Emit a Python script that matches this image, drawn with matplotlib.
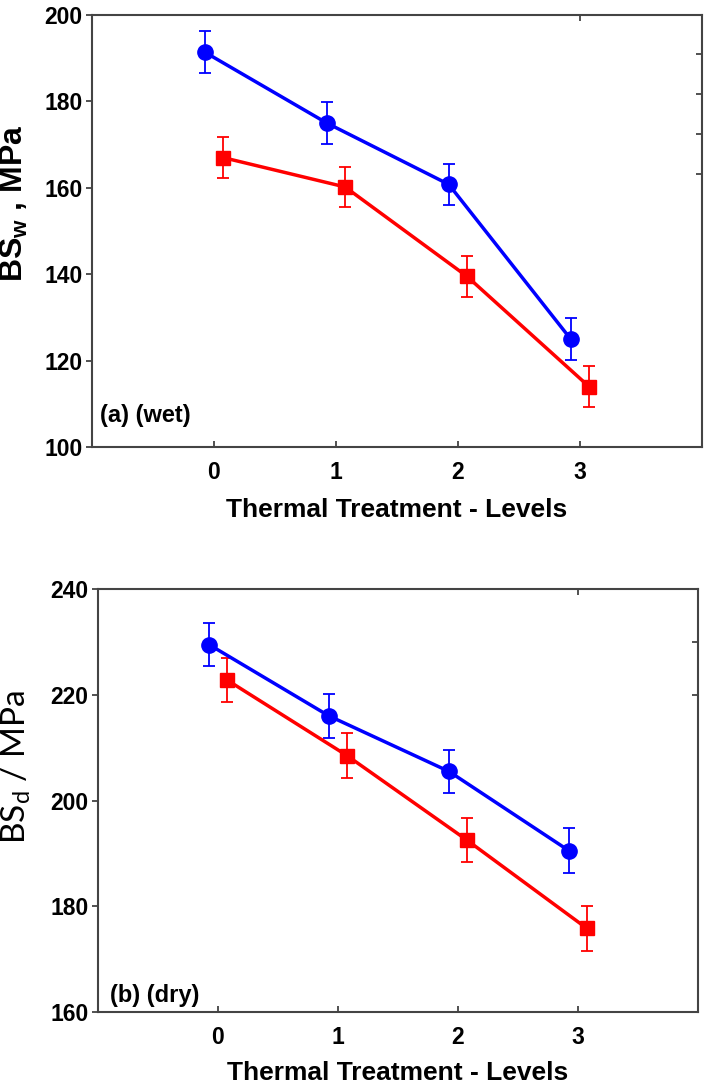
import numpy as np
import matplotlib
matplotlib.use("Agg")
import matplotlib.pyplot as plt

plt.rcParams['font.family'] = ['Liberation Sans', 'DejaVu Sans']

levels = [0, 1, 2, 3]

# (a) wet
wet_blue = [191.4, 175.0, 160.8, 125.0]
wet_blue_err = [4.8, 4.8, 4.8, 4.8]
wet_red = [167.0, 160.2, 139.5, 114.0]
wet_red_err = [4.7, 4.7, 4.7, 4.7]

# (b) dry
dry_blue = [229.5, 216.0, 205.5, 190.5]
dry_blue_err = [4.1, 4.1, 4.1, 4.3]
dry_red = [222.8, 208.5, 192.5, 175.8]
dry_red_err = [4.2, 4.2, 4.2, 4.2]

fsize = 16.5
shift = 0.075


def draw_panel(ax, blue, blue_err, red, red_err, ylim, yticks, rticks, lpad):
    x = np.array(levels)
    ax.errorbar(x - shift, blue, yerr=blue_err, color='#0000ff', marker='o',
                markersize=11, linewidth=2.5, elinewidth=1.3, capsize=4.5,
                capthick=1.3)
    ax.errorbar(x + shift, red, yerr=red_err, color='#ff0000', marker='s',
                markersize=10, linewidth=2.5, elinewidth=1.3, capsize=4.5,
                capthick=1.3)
    ax.set_xlim(-1, 4)
    ax.set_ylim(*ylim)
    ax.set_xticks(levels)
    ax.set_yticks(yticks)
    for lab in ax.get_xticklabels() + ax.get_yticklabels():
        lab.set_fontweight('bold')
        lab.set_fontsize(fsize)
    ax.tick_params(axis='x', direction='in', length=4, width=1.2, pad=10,
                   color='#333333')
    ax.tick_params(axis='y', direction='out', length=4, width=1.2, pad=3,
                   color='#333333')
    for s in ax.spines.values():
        s.set_color('#444444')
        s.set_linewidth(1.5)
    # inward ticks on the top and right edges
    top = ax.secondary_xaxis('top')
    top.set_xticks([3])
    top.tick_params(direction='in', length=4, width=1.2, labeltop=False,
                    color='#333333')
    top.spines['top'].set_visible(False)
    right = ax.secondary_yaxis('right')
    right.set_yticks(rticks)
    right.tick_params(direction='in', length=4, width=1.2, labelright=False,
                      color='#333333')
    right.spines['right'].set_visible(False)
    ax.set_xlabel("Thermal Treatment - Levels", fontsize=19, fontweight='bold',
                  labelpad=lpad)


fig = plt.figure(figsize=(7.09, 10.89), dpi=100)
ax1 = fig.add_axes([0.1298, 0.5895, 0.860, 0.3967])
ax2 = fig.add_axes([0.1382, 0.0707, 0.8463, 0.3884])

draw_panel(ax1, wet_blue, wet_blue_err, wet_red, wet_red_err,
           (100, 200), [100, 120, 140, 160, 180, 200],
           [191, 181.7, 172.5, 163.3], 10)
draw_panel(ax2, dry_blue, dry_blue_err, dry_red, dry_red_err,
           (160, 240), [160, 180, 200, 220, 240],
           [230, 220], 9)

ax1.set_ylabel("BS$_\\mathregular{w}$ , MPa", fontsize=23, fontweight='bold')
ax1.yaxis.set_label_coords(-0.102, 0.565)
ax2.set_ylabel("BS$_\\mathregular{d}$ / MPa", fontsize=24, fontweight='normal',
               family=['Lato', 'DejaVu Sans'])
ax2.yaxis.set_label_coords(-0.108, 0.58)

ax1.text(0.013, 0.072, "(a) (wet)", transform=ax1.transAxes, fontsize=17,
         fontweight='bold', va='center', ha='left')
ax2.text(0.02, 0.04, "(b) (dry)", transform=ax2.transAxes, fontsize=17,
         fontweight='bold', va='center', ha='left')

fig.savefig("out.png", dpi=100)
